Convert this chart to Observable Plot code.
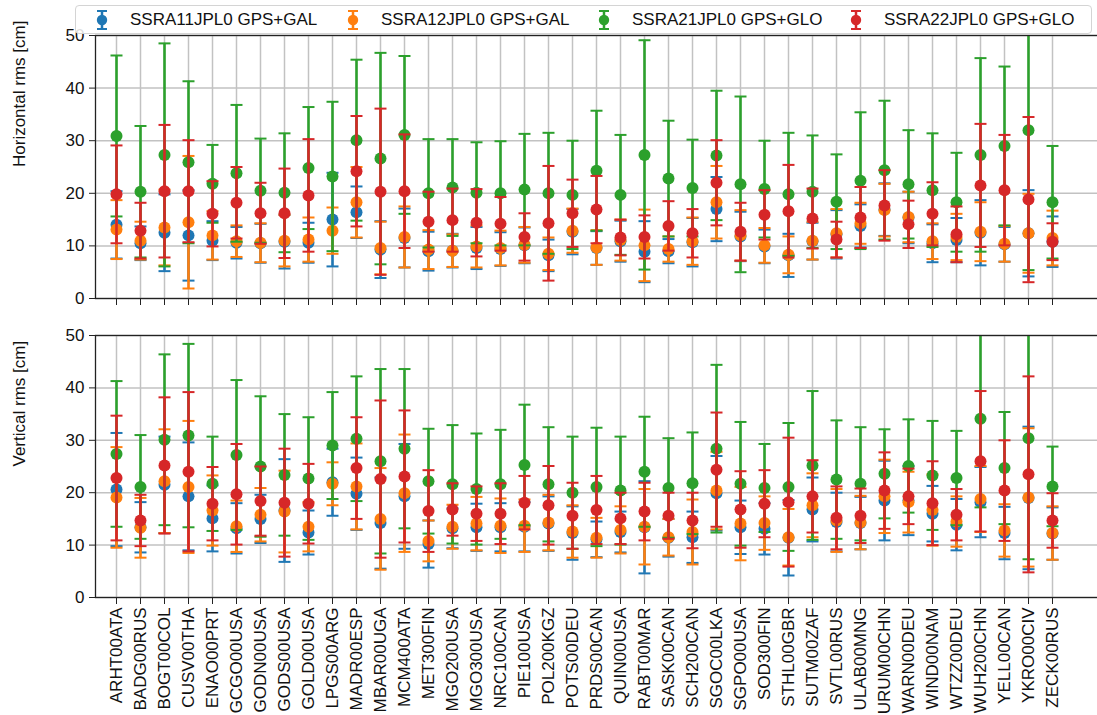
<!DOCTYPE html>
<html>
<head>
<meta charset="utf-8">
<script src="https://cdn.jsdelivr.net/npm/d3@7"></script>
<script src="https://cdn.jsdelivr.net/npm/@observablehq/plot@0.6"></script>
<style>
  html, body { margin: 0; padding: 0; background: #fff; }
  body { font-family: "Liberation Sans", Arial, sans-serif; }
  #wrap { position: relative; width: 1097px; height: 715px; overflow: hidden; }
  #top { position: absolute; left: 0; top: 0; width: 1097px; }
  #bottom { position: absolute; left: 0; top: 310px; width: 1097px; }
  #legend { position: absolute; left: 75px; top: 5px; width: 1017px; height: 29px; box-sizing: border-box;
            border: 1px solid #d4d4d4; border-radius: 4px; background: rgba(255,255,255,0.85); z-index: 5; }
  .item { position: absolute; top: 0; height: 27px; }
  .item svg { position: absolute; top: 4px; }
  .item span { position: absolute; top: 4px; white-space: nowrap; font-size: 17px; line-height: 19px; color: #111; }
</style>
</head>
<body>
<div id="wrap">
  <div id="top"></div>
  <div id="bottom"></div>
  <div id="legend"></div>
</div>
<script>
// ---------------- data ----------------
const stations = ["ARHT00ATA","BADG00RUS","BOGT00COL","CUSV00THA","ENAO00PRT","GCGO00USA","GODN00USA","GODS00USA","GOLD00USA","LPGS00ARG",
  "MADR00ESP","MBAR00UGA","MCM400ATA","MET300FIN","MGO200USA","MGO300USA","NRC100CAN","PIE100USA","POL200KGZ","POTS00DEU",
  "PRDS00CAN","QUIN00USA","RABT00MAR","SASK00CAN","SCH200CAN","SGOC00LKA","SGPO00USA","SOD300FIN","STHL00GBR","SUTM00ZAF",
  "SVTL00RUS","ULAB00MNG","URUM00CHN","WARN00DEU","WIND00NAM","WTZZ00DEU","WUH200CHN","YELL00CAN","YKRO00CIV","ZECK00RUS"];

const seriesNames = ["SSRA11JPL0 GPS+GAL","SSRA12JPL0 GPS+GAL","SSRA21JPL0 GPS+GLO","SSRA22JPL0 GPS+GLO"];
const seriesColors = ["#1f77b4","#ff7f0e","#2ca02c","#d62728"];
const yTicks = [0,10,20,30,40,50];

// Horizontal rms [cm] : mean and standard deviation per station
const hGal11Mean = [14.0,10.5,12.5,12.0,11.0,10.6,10.5,10.8,10.6,15.0,16.4,9.3,11.5,9.0,9.1,9.6,9.4,10.1,8.2,12.7,9.6,10.9,8.9,9.0,10.7,17.0,11.8,9.9,8.2,10.9,12.2,13.8,16.9,15.4,10.5,11.1,12.5,10.3,12.4,10.8];
const hGal11Std  = [6.4,3.2,7.3,8.6,3.7,3.0,3.7,5.1,3.8,8.9,4.9,5.4,5.6,3.7,3.2,4.0,3.2,3.4,3.0,4.3,3.2,3.9,5.8,2.3,4.6,6.1,4.7,3.2,4.1,3.5,4.6,4.1,5.0,4.9,3.6,4.2,6.2,3.3,8.2,4.8];
const hGal12Mean = [13.1,11.0,13.5,14.5,12.0,10.9,10.6,11.0,11.2,12.9,18.3,9.6,11.7,9.3,9.1,9.9,9.6,10.2,8.5,12.9,9.7,11.1,10.1,9.4,10.9,18.3,12.0,10.1,8.3,11.0,12.4,14.3,16.8,15.5,10.9,11.7,12.7,10.4,12.4,11.5];
const hGal12Std  = [5.6,3.6,7.2,12.6,4.6,3.0,3.7,4.9,4.2,4.4,6.7,5.0,5.8,3.7,3.1,4.0,3.3,3.4,3.1,4.2,3.3,3.9,6.8,2.4,4.5,6.9,4.8,3.3,3.5,3.6,4.6,3.9,5.0,4.8,3.4,4.4,5.6,3.4,7.5,5.2];
const hGlo21Mean = [30.9,20.3,27.3,25.9,21.8,23.8,20.5,20.1,24.8,23.2,30.1,26.6,31.1,20.0,21.1,20.1,20.0,20.7,20.0,19.7,24.3,19.7,27.3,22.8,21.0,27.2,21.7,20.8,19.8,20.3,18.4,22.4,24.4,21.7,20.6,18.3,27.3,29.0,32.0,18.3];
const hGlo21Std  = [15.3,12.5,21.2,15.4,7.4,13.0,9.9,11.3,11.6,14.2,15.3,20.1,15.0,10.3,9.2,9.6,9.9,10.6,11.5,10.3,11.4,11.4,21.8,11.0,9.2,12.3,16.7,9.2,11.7,10.7,9.0,13.0,13.2,10.3,10.8,9.4,18.4,15.1,26.6,10.7];
const hGlo22Mean = [19.8,12.9,20.4,20.4,16.1,18.2,16.2,16.2,19.6,null,24.2,20.3,20.4,14.6,14.9,14.4,14.2,11.7,14.3,16.2,16.9,11.6,11.7,13.8,12.4,22.0,12.7,15.9,16.6,15.2,11.2,15.4,17.7,14.1,16.1,12.2,21.5,20.6,18.8,10.8];
const hGlo22Std  = [9.3,5.3,12.6,9.7,6.2,6.8,5.8,8.5,10.7,null,10.5,15.8,10.8,5.7,6.0,6.4,5.1,4.5,10.9,6.4,6.4,3.4,4.1,4.7,4.6,8.1,5.5,4.7,8.8,5.7,3.4,5.8,6.7,4.5,6.0,5.3,11.7,10.5,15.7,3.5];

// Vertical rms [cm]
const vGal11Mean = [20.6,13.4,21.5,19.3,15.1,13.2,15.0,16.6,12.4,22.0,19.8,14.2,19.3,10.2,13.2,13.4,13.4,13.5,14.1,12.3,11.1,12.5,13.4,11.4,11.5,19.9,13.4,13.1,11.4,16.8,14.4,14.2,18.5,18.5,16.0,13.9,18.2,12.3,19.0,12.2];
const vGal11Std  = [10.8,4.8,9.2,10.3,6.3,4.8,4.6,9.8,4.2,6.4,6.9,8.7,10.0,4.5,3.8,4.5,4.6,4.7,5.2,5.1,3.4,3.9,8.8,3.6,4.9,7.1,5.1,4.9,7.2,6.1,5.6,5.0,7.6,6.6,5.3,4.9,6.7,5.0,13.6,5.0];
const vGal12Mean = [19.1,13.3,22.2,21.1,16.6,13.6,15.8,16.4,13.5,21.7,21.2,15.0,19.9,10.8,13.5,14.1,13.7,13.7,14.3,12.6,11.4,12.9,13.5,11.5,12.5,20.4,14.1,14.2,11.5,17.6,14.7,14.3,19.3,18.2,16.7,14.5,18.8,12.8,19.1,12.3];
const vGal12Std  = [9.6,5.7,9.9,12.6,6.7,4.9,5.1,7.8,4.7,4.1,8.2,9.7,11.2,3.9,4.2,5.1,5.2,5.0,5.3,5.0,3.8,4.5,7.2,3.5,6.2,7.4,7.0,5.1,5.4,6.1,6.0,5.1,7.0,5.8,6.8,4.8,6.3,5.0,13.2,5.1];
const vGlo21Mean = [27.4,21.1,30.1,30.9,21.7,27.2,25.0,23.4,22.7,29.0,30.3,26.0,28.4,22.2,21.6,20.7,21.6,25.3,21.6,20.0,21.1,20.4,24.0,20.9,21.8,28.4,21.7,20.9,21.1,25.2,22.5,21.7,23.6,25.1,23.3,22.8,34.1,24.7,30.4,21.2];
const vGlo21Std  = [13.9,9.9,16.3,17.5,9.0,14.3,13.4,11.6,11.7,10.2,11.9,17.6,15.2,10.0,11.3,10.6,10.4,11.5,10.9,10.7,11.3,10.3,10.5,9.5,9.7,16.0,11.8,8.4,12.2,14.2,11.3,10.8,8.5,8.9,10.4,9.0,16.9,10.7,23.1,7.6];
const vGlo22Mean = [22.8,14.7,25.2,24.0,17.9,19.7,18.4,18.1,17.9,null,24.7,22.6,23.1,16.5,16.8,16.0,16.0,18.1,17.6,15.6,16.7,15.1,16.4,15.6,14.7,24.4,16.8,17.9,18.2,19.3,15.2,15.6,20.4,19.3,18.0,15.8,26.0,20.4,23.5,14.7];
const vGlo22Std  = [11.9,4.9,13.0,15.2,7.0,9.6,6.6,10.3,7.6,null,9.7,15.0,12.6,7.8,5.0,5.2,5.8,5.1,7.5,6.3,6.5,4.9,5.5,4.4,5.3,10.9,7.3,6.4,12.3,6.9,6.0,5.2,7.3,5.3,8.0,4.9,13.4,9.6,18.7,5.2];

// ---------------- build tables ----------------
function table(means, stds) {
  const rows = [];
  means.forEach((m, si) => {
    m.forEach((v, i) => {
      if (v != null && stds[si][i] != null) rows.push({station: stations[i], series: si, mean: v, std: stds[si][i]});
    });
  });
  return rows;
}
const horizontal = table([hGal11Mean, hGal12Mean, hGlo21Mean, hGlo22Mean], [hGal11Std, hGal12Std, hGlo21Std, hGlo22Std]);
const vertical   = table([vGal11Mean, vGal12Mean, vGlo21Mean, vGlo22Mean], [vGal11Std, vGal12Std, vGlo21Std, vGlo22Std]);

// horizontal cap symbol for error bars
const capSymbol = {
  draw(context, size) {
    const r = Math.sqrt(size / Math.PI);
    context.moveTo(-r, 0);
    context.lineTo(r, 0);
  }
};

const gridColor = "#c2c2c2";
const fontFamily = "'Liberation Sans', Arial, Helvetica, sans-serif";

function panel(rows, yLabel, {height, marginTop, marginBottom, labels}) {
  const marks = [
    Plot.ruleX(stations, {x: d => d, stroke: gridColor, strokeWidth: 1.5}),
    Plot.ruleY(yTicks, {y: d => d, stroke: gridColor, strokeWidth: 1.5})
  ];
  seriesNames.forEach((name, si) => {
    const d = rows.filter(r => r.series === si);
    const color = seriesColors[si];
    marks.push(Plot.ruleX(d, {x: "station", y1: r => r.mean - r.std, y2: r => r.mean + r.std, stroke: color, strokeWidth: 2.6, clip: true}));
    marks.push(Plot.dot(d, {x: "station", y: r => r.mean + r.std, symbol: capSymbol, r: 6, stroke: color, strokeWidth: 2, fill: "none", clip: true}));
    marks.push(Plot.dot(d, {x: "station", y: r => r.mean - r.std, symbol: capSymbol, r: 6, stroke: color, strokeWidth: 2, fill: "none", clip: true}));
    marks.push(Plot.dot(d, {x: "station", y: "mean", r: 6, fill: color, stroke: "none", clip: true}));
  });
  marks.push(Plot.frame({stroke: "#222", strokeWidth: 1.3}));
  marks.push(Plot.axisY({ticks: yTicks, tickSize: 6, tickPadding: 5, label: null, stroke: "#222", fontSize: 17}));
  if (labels) {
    marks.push(Plot.axisX({tickSize: 7, tickPadding: 3, tickRotate: -90, label: null, stroke: "#222", fontSize: 17}));
  } else {
    marks.push(Plot.axisX({tickSize: 7, tickFormat: () => "", label: null, stroke: "#222"}));
  }
  marks.push(Plot.text([yLabel], {text: d => d, frameAnchor: "left", rotate: -90, dx: -76, fontSize: 17}));
  return Plot.plot({
    width: 1097, height, marginTop, marginBottom, marginLeft: 95, marginRight: -3,
    x: {type: "point", domain: stations, range: [113, 1054], padding: 0},
    y: {domain: [0, 50]},
    style: {fontFamily, fontSize: "17px", color: "#111", background: "transparent", overflow: "visible"},
    marks
  });
}

document.getElementById("top").append(panel(horizontal, "Horizontal rms [cm]", {height: 310, marginTop: 35, marginBottom: 12, labels: false}));
document.getElementById("bottom").append(panel(vertical, "Vertical rms [cm]", {height: 405, marginTop: 25, marginBottom: 118, labels: true}));

// ---------------- legend ----------------
const legend = document.getElementById("legend");
const iconX = [26, 277, 528, 780];
seriesNames.forEach((name, si) => {
  const c = seriesColors[si];
  const item = document.createElement("div");
  item.className = "item";
  item.style.left = (iconX[si] - 8) + "px";
  item.innerHTML =
    `<svg width="16" height="20" viewBox="0 0 16 20">
       <line x1="8" y1="1" x2="8" y2="19" stroke="${c}" stroke-width="2.5"/>
       <line x1="3" y1="1" x2="13" y2="1" stroke="${c}" stroke-width="2"/>
       <line x1="3" y1="19" x2="13" y2="19" stroke="${c}" stroke-width="2"/>
       <circle cx="8" cy="10" r="5.2" fill="${c}"/>
     </svg><span style="left:36px">${name}</span>`;
  legend.append(item);
});
</script>
</body>
</html>
